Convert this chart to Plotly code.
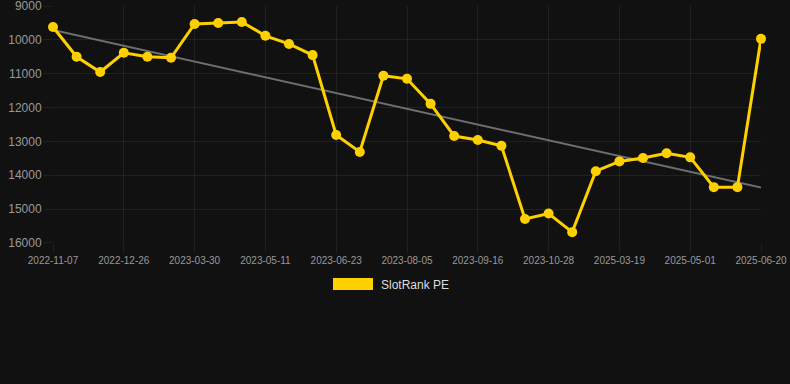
import numpy as np
import plotly.graph_objects as go

dates = [
    "2022-11-07", "2022-11-23", "2022-12-09",
    "2022-12-26", "2023-01-26", "2023-02-27",
    "2023-03-30", "2023-04-13", "2023-04-27",
    "2023-05-11", "2023-05-25", "2023-06-08",
    "2023-06-23", "2023-07-07", "2023-07-21",
    "2023-08-05", "2023-08-19", "2023-09-02",
    "2023-09-16", "2023-09-30", "2023-10-14",
    "2023-10-28", "2023-11-11", "2025-03-05",
    "2025-03-19", "2025-04-02", "2025-04-16",
    "2025-05-01", "2025-05-17", "2025-06-03",
    "2025-06-20",
]
rank = [
    9620, 10500, 10950, 10380, 10500, 10530, 9530, 9500, 9470, 9880,
    10120, 10450, 12810, 13310, 11060, 11150, 11890, 12840, 12960, 13130,
    15290, 15130, 15680, 13880, 13590, 13490, 13350, 13470, 14350, 14350,
    9970,
]
series_name = "SlotRank PE"
tick_labels = dates[::3]
y_ticks = [9000, 10000, 11000, 12000, 13000, 14000, 15000, 16000]

idx = np.arange(len(rank))
slope, intercept = np.polyfit(idx, rank, 1)
trend = [intercept + slope * idx[0], intercept + slope * idx[-1]]

GOLD = "#FFD000"
GRID = "rgba(255,255,255,0.07)"
fig = go.Figure()
fig.add_trace(go.Scatter(
    x=[dates[0], dates[-1]], y=trend, mode="lines",
    line=dict(color="#6e6e6e", width=2), hoverinfo="skip",
    showlegend=False, cliponaxis=False,
))
fig.add_trace(go.Scatter(
    x=dates, y=rank, mode="lines+markers", name=series_name,
    line=dict(color=GOLD, width=3),
    marker=dict(color=GOLD, size=10),
    showlegend=False, cliponaxis=False,
))

W, H = 790, 384
L, R, T, B = 53, 29, 6, 141
pw, ph = W - L - R, H - T - B

def px(x):
    return (x - L) / pw

def py(y):
    return (H - B - y) / ph

fig.add_shape(type="rect", xref="paper", yref="paper",
              x0=px(333), x1=px(373), y0=py(290), y1=py(278),
              fillcolor=GOLD, line=dict(width=0))
fig.add_annotation(xref="paper", yref="paper", x=px(379), y=py(284.5),
                   xanchor="left", yanchor="middle", showarrow=False,
                   text=series_name,
                   font=dict(family="Liberation Sans, Arial", size=12, color="#dddddd"))

fig.update_layout(
    width=W, height=H,
    margin=dict(l=L, r=R, t=T, b=B, autoexpand=False),
    paper_bgcolor="#111111", plot_bgcolor="#111111",
    font=dict(family="Liberation Sans, Arial", color="#999999"),
    showlegend=False,
)
fig.update_xaxes(
    type="category", categoryorder="array", categoryarray=dates,
    range=[0, len(dates) - 1],
    tickvals=tick_labels, ticktext=tick_labels,
    tickfont=dict(size=10, color="#999999"),
    showgrid=True, gridcolor=GRID, gridwidth=1,
    ticks="outside", ticklen=8, tickcolor=GRID,
    showline=False, zeroline=False, tickangle=0,
    ticklabeloverflow="allow", automargin=False,
)
fig.update_yaxes(
    range=[16000.5, 8999.5], tickvals=y_ticks, tickformat="d",
    tickfont=dict(size=12, color="#999999"),
    showgrid=True, gridcolor=GRID, gridwidth=1,
    ticks="outside", ticklen=8, tickcolor=GRID,
    showline=False, zeroline=False,
    ticklabeloverflow="allow", automargin=False,
)

fig.write_html(
    "out.html",
    config={"displayModeBar": False},
    post_script="document.body.style.margin='0';document.body.style.background='#111111';",
)
